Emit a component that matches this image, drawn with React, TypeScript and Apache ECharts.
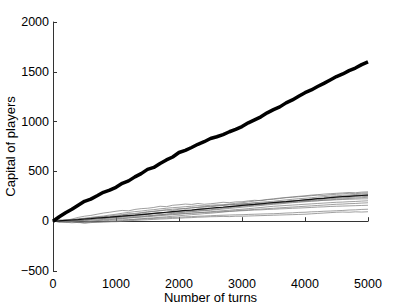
import React, { useEffect, useRef } from "react";
import * as echarts from "echarts";

const TURNS = [0,100,200,300,400,500,600,700,800,900,1000,1100,1200,1300,1400,1500,1600,1700,1800,1900,2000,2100,2200,2300,2400,2500,2600,2700,2800,2900,3000,3100,3200,3300,3400,3500,3600,3700,3800,3900,4000,4100,4200,4300,4400,4500,4600,4700,4800,4900,5000];

const THICK = [0,45,85,120,160,200, 222,255,290,312,340, 380,405,445,478,520, 540,580,615,645,690, 712,740,772,798,830, 848,870,898,922,950, 988,1018,1048,1088,1120, 1148,1188,1218,1255,1290, 1318,1352,1384,1418,1452, 1478,1512,1538,1572,1600];

const MEAN = [0,3,8,12,16,22, 26,32,36,40,46, 50,56,60,66,72, 78,84,90,96,102, 108,112,118,124,130, 136,140,146,152,158, 164,168,174,180,186, 192,196,202,208,214, 220,226,230,236,242, 246,250,254,258,262];

const L1 = [0,12,8,22,38,50, 58,70,82,90,100, 108,104,118,126,130, 138,150,146,160,165, 172,168,178,170,175, 182,190,186,194,195, 204,210,206,216,220, 228,236,240,246,250, 256,262,258,266,270, 274,280,276,282,285];
const L2 = [0,-6,4,10,2,20, 28,36,44,52,60, 66,74,70,82,90, 98,104,112,108,120, 126,134,140,146,150, 158,166,172,180,185, 194,202,210,218,225, 232,238,244,250,255, 262,266,272,276,280, 284,288,286,292,295];
const L3 = [0,10,4,16,24,30, 38,46,52,62,70, 80,88,96,102,110, 116,124,130,136,140, 146,150,156,154,160, 164,160,168,166,170, 178,186,190,196,200, 208,214,220,226,230, 236,242,246,252,255, 260,264,268,272,275];
const L4 = [0,-8,-2,6,0,10, 16,22,30,34,40, 46,52,60,64,70, 76,84,88,94,100, 106,112,120,124,130, 134,142,148,154,160, 166,172,178,184,190, 194,200,206,210,215, 222,228,234,240,245, 248,254,258,262,265];
const L5 = [0,6,14,10,20,25, 32,38,44,40,50, 60,70,78,86,95, 100,108,114,120,125, 128,134,138,142,145, 152,158,164,170,175, 178,182,180,186,185, 190,194,198,202,205, 210,216,220,226,230, 234,238,244,246,250];
const L6 = [0,-4,-10,-6,-14,-10, -2,6,12,16,20, 26,32,38,44,50, 58,64,72,78,85, 90,96,100,106,110, 116,122,128,134,140, 146,152,158,164,170, 174,180,186,190,195, 200,204,210,214,220, 224,228,232,236,240];
const L7 = [0,4,10,6,12,15, 22,28,34,40,45, 52,58,64,70,75, 78,82,86,88,90, 96,100,106,110,115, 122,130,136,144,150, 154,160,164,170,175, 180,186,190,196,200, 204,206,210,212,215, 218,220,222,224,225];
const L8 = [0,-4,2,-2,8,5, 10,14,18,22,25, 30,34,38,42,45, 50,56,60,66,70, 76,80,86,90,95, 100,106,110,116,120, 126,132,138,144,150, 154,158,162,166,170, 174,178,182,186,190, 192,196,198,202,205];
const L9 = [0,-6,-10,-16,-12,-20, -14,-10,-6,-4,0, 6,12,18,24,30, 34,40,44,50,55, 60,66,70,76,80, 86,92,98,104,110, 114,118,122,126,130, 134,138,142,146,150, 154,158,162,166,170, 172,176,178,182,185];
const L10 = [0,8,4,12,16,20, 24,28,26,32,35, 40,44,48,52,55, 60,64,68,72,75, 78,82,84,88,90, 94,96,100,102,105, 108,112,114,118,120, 124,126,130,132,135, 138,142,144,148,150, 152,154,156,158,160];
const L11 = [0,2,-4,-2,-8,-5, -2,2,4,8,10, 14,16,20,22,25, 28,32,34,38,40, 44,46,50,52,55, 58,60,62,64,65, 68,70,72,74,75, 78,82,84,88,90, 94,96,100,102,105, 108,112,114,118,120];
const L12 = [0,-4,-8,-6,-12,-15, -12,-10,-8,-6,-5, -2,4,8,12,15, 18,22,24,28,30, 34,36,40,42,45, 46,48,46,50,50, 52,54,56,58,60, 62,64,66,68,70, 74,78,82,86,90, 92,90,94,92,95];

const PLAYERS = [L1, L2, L3, L4, L5, L6, L7, L8, L9, L10, L11, L12];

const X_NAME = "Number of turns";
const Y_NAME = "Capital of players";

const toPairs = (vals: number[]) => vals.map((v, i) => [TURNS[i], v]);

export default function App() {
  const ref = useRef<HTMLDivElement>(null);
  useEffect(() => {
    if (!ref.current) return;
    const chart = echarts.init(ref.current, null, { renderer: "svg" });
    const font = "'Liberation Sans', Arial, Helvetica, sans-serif";
    const axisCommon = {
      axisLine: { show: true, lineStyle: { color: "#333", width: 1 } },
      axisTick: { show: true, inside: true, length: 4, lineStyle: { color: "#333", width: 1 } },
      splitLine: { show: false },
      axisLabel: { color: "#000", fontSize: 12.5, fontFamily: font },
      nameTextStyle: { color: "#000", fontSize: 13, fontFamily: font },
      nameMoveOverlap: false,
    };
    const series: any[] = PLAYERS.map((p) => ({
      type: "line",
      data: toPairs(p),
      symbol: "none",
      lineStyle: { color: "#777", width: 0.7 },
      z: 2,
    }));
    series.push({
      type: "line",
      data: toPairs(MEAN),
      symbol: "none",
      lineStyle: { color: "#111", width: 1.2 },
      z: 3,
    });
    series.push({
      type: "line",
      data: toPairs(THICK),
      symbol: "none",
      lineStyle: { color: "#000", width: 3.5 },
      z: 4,
    });
    chart.setOption({
      animation: false,
      backgroundColor: "#fff",
      grid: { left: 53, right: 39, top: 22, bottom: 35, outerBoundsMode: "none" },
      xAxis: {
        type: "value",
        min: 0,
        max: 5000,
        interval: 1000,
        name: X_NAME,
        nameLocation: "middle",
        nameGap: 20,
        ...axisCommon,
        axisLabel: { ...axisCommon.axisLabel, margin: 6, formatter: (v: number) => String(v) },
      },
      yAxis: {
        type: "value",
        min: -500,
        max: 2000,
        interval: 500,
        name: Y_NAME,
        nameLocation: "middle",
        nameGap: 36,
        ...axisCommon,
        axisLabel: {
          ...axisCommon.axisLabel,
          margin: 4,
          formatter: (v: number) => (v < 0 ? "\u2212" + Math.abs(v) : String(v)),
        },
      },
      series,
    });
    return () => chart.dispose();
  }, []);
  return <div ref={ref} style={{ position: "fixed", left: 0, top: 0, width: 407, height: 306 }} />;
}
